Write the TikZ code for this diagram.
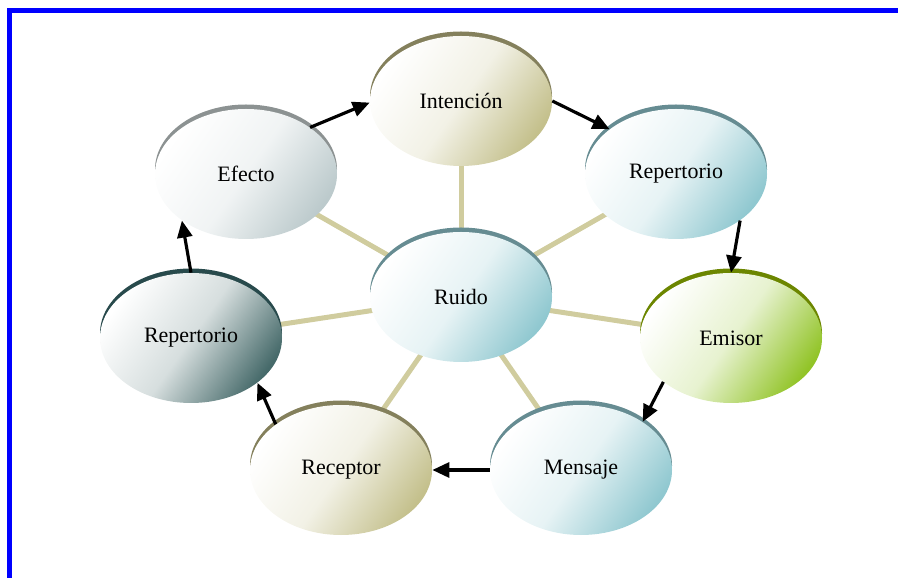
\documentclass[tikz,border=0pt]{standalone}
\usepackage{fontspec}
\setmainfont{Liberation Serif}
\usetikzlibrary{shapes.geometric, shadows, backgrounds, arrows.meta}

\definecolor{kfill}{RGB}{196,192,140}
\definecolor{krim}{RGB}{132,128,92}
\definecolor{tfill}{RGB}{144,200,208}
\definecolor{trim}{RGB}{102,140,146}
\definecolor{gfill}{RGB}{146,196,40}
\definecolor{grim}{RGB}{108,134,0}
\definecolor{sfill}{RGB}{70,106,106}
\definecolor{srim}{RGB}{40,74,76}
\definecolor{efill}{RGB}{188,202,204}
\definecolor{erim}{RGB}{140,146,146}
\definecolor{spoke}{RGB}{208,204,158}
\definecolor{frameblue}{RGB}{0,0,255}

\tikzset{
  bubble/.style={ellipse, minimum width=3.64cm, minimum height=2.6cm, inner sep=0pt,
    top color=white, bottom color=#1fill, middle color=#1fill!22!white, shading angle=55,
    general shadow={shadow xshift=0cm, shadow yshift=0.09cm, fill=#1rim},
    font=\fontsize{12.5}{15}\selectfont},
  link/.style={line width=1.8pt, -{Triangle[length=0.34cm,width=0.3cm]}},
  ray/.style={spoke, line width=0.1cm}
}

\begin{document}
\begin{tikzpicture}
    \useasboundingbox (0,0) rectangle (17.96,-11.56);
    \clip (0,0) rectangle (17.96,-11.56);

    % Frame
    \draw[frameblue, line width=0.1cm] (0.19,-0.21) rectangle (20,-14);

    % Bubbles
    \foreach \name/\x/\y/\col/\txt in {intencion/9.22/-2.02/k/Intención, reprt/13.52/-3.48/t/Repertorio,
      emisor/14.62/-6.76/g/Emisor, mensaje/11.62/-9.40/t/Mensaje, receptor/6.82/-9.40/k/Receptor,
      repl/3.82/-6.76/s/Repertorio, efecto/4.92/-3.48/e/Efecto, ruido/9.22/-5.94/t/Ruido} {
      \node[bubble=\col] (\name) at (\x,\y) {\txt};
    }

    % Spokes from the noise
    \begin{scope}[on background layer]
      \foreach \n in {intencion, reprt, emisor, mensaje, receptor, repl, efecto}
        \draw[ray] (ruido.center) -- (\n.center);
    \end{scope}

    % Cycle
    \foreach \a/\b in {efecto.36/intencion.181, intencion.0/reprt.146, reprt.324/emisor.90,
      emisor.213/mensaje.38, mensaje.180/receptor.0, receptor.145/repl.326, repl.90/efecto.216}
      \draw[link] (\a) -- (\b);

\end{tikzpicture}
\end{document}
